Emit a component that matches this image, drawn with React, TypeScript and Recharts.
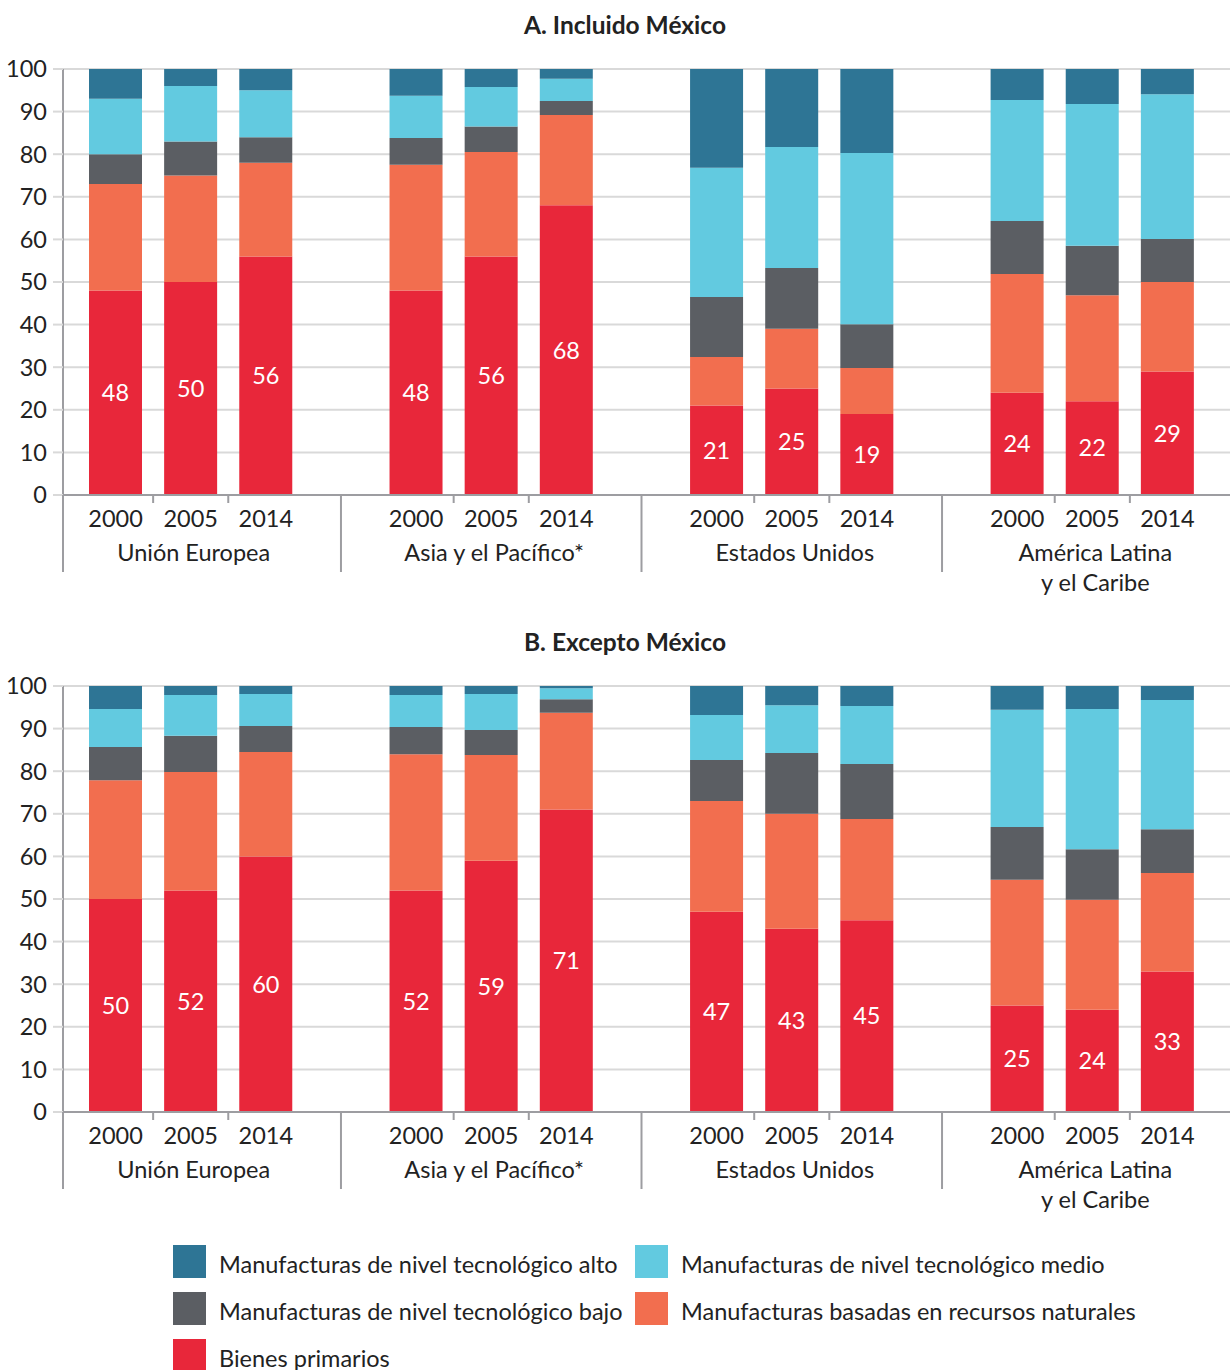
import React from 'react';
import { BarChart, Bar, XAxis, YAxis, CartesianGrid, LabelList } from 'recharts';

const regions = ['Unión Europea', 'Asia y el Pacífico*', 'Estados Unidos', 'América Latina\ny el Caribe'];
const years = ['2000', '2005', '2014'];
const yTicks = [0, 10, 20, 30, 40, 50, 60, 70, 80, 90, 100];

// A. Incluido México (order: UE, Asia, EE.UU., ALC x 2000/2005/2014)
const primariosA = [48, 50, 56, 48, 56, 68, 21, 25, 19, 24, 22, 29];
const naturalesA = [25, 25, 22, 29.5, 24.5, 21.2, 11.4, 14, 10.8, 27.9, 24.9, 21];
const bajoA = [7, 8, 6, 6.3, 6, 3.3, 14.1, 14.3, 10.3, 12.4, 11.6, 10.1];
const medioA = [13, 13, 11, 9.9, 9.3, 5.2, 30.3, 28.4, 40.2, 28.4, 33.3, 34];
const altoA = [7, 4, 5, 6.3, 4.2, 2.3, 23.2, 18.3, 19.7, 7.3, 8.2, 5.9];

// B. Excepto México
const primariosB = [50, 52, 60, 52, 59, 71, 47, 43, 45, 25, 24, 33];
const naturalesB = [27.9, 27.8, 24.5, 32, 24.8, 22.7, 26, 27, 23.8, 29.5, 25.8, 23.1];
const bajoB = [7.8, 8.5, 6.1, 6.4, 5.9, 3.2, 9.6, 14.3, 12.9, 12.4, 11.9, 10.3];
const medioB = [8.9, 9.6, 7.5, 7.5, 8.4, 2.6, 10.6, 11.2, 13.6, 27.5, 32.9, 30.3];
const altoB = [5.4, 2.1, 1.9, 2.1, 1.9, 0.5, 6.8, 4.5, 4.7, 5.6, 5.4, 3.3];

const series = [
  { key: 'alto', name: 'Manufacturas de nivel tecnológico alto', color: '#2e7595' },
  { key: 'medio', name: 'Manufacturas de nivel tecnológico medio', color: '#62cae0' },
  { key: 'bajo', name: 'Manufacturas de nivel tecnológico bajo', color: '#5b5e63' },
  { key: 'naturales', name: 'Manufacturas basadas en recursos naturales', color: '#f26e4f' },
  { key: 'primarios', name: 'Bienes primarios', color: '#e8273a' },
];
const stackOrder = ['primarios', 'naturales', 'bajo', 'medio', 'alto'];

const W = 1230;
const H = 600;
const PLOT_LEFT = 63;
const PAD_L = 15;
const PAD_R = 25;
const SLOTS = regions.length * years.length + regions.length - 1;
const SLOT_W = (W - PLOT_LEFT - PAD_L - PAD_R) / SLOTS;
const FONT = 'Lato, "Noto Sans", sans-serif';
const FS = 23.5;
const TEXT = '#222222';
const AXIS = '#9d9da1';

function buildRows(p: number[], n: number[], b: number[], m: number[], a: number[]) {
  const rows: any[] = [];
  regions.forEach((r, ri) => {
    years.forEach((y, yi) => {
      const i = ri * years.length + yi;
      rows.push({ key: `${ri}-${yi}`, primarios: p[i], naturales: n[i], bajo: b[i], medio: m[i], alto: a[i] });
    });
    if (ri < regions.length - 1) rows.push({ key: `gap-${ri}` });
  });
  return rows;
}

const rowsA = buildRows(primariosA, naturalesA, bajoA, medioA, altoA);
const rowsB = buildRows(primariosB, naturalesB, bajoB, medioB, altoB);

const CategoryTick = (props: any) => {
  const { x, y, payload, index } = props;
  const key: string = payload.value;
  if (key.startsWith('gap')) {
    return <line x1={x} x2={x} y1={y} y2={y + 77} stroke={AXIS} strokeWidth={2} />;
  }
  const [ri, yi] = key.split('-').map(Number);
  const lines = regions[ri].split('\n');
  return (
    <g>
      {index === 0 && <line x1={PLOT_LEFT} x2={PLOT_LEFT} y1={y} y2={y + 77} stroke={AXIS} strokeWidth={2} />}
      {yi > 0 && <line x1={x - SLOT_W / 2} x2={x - SLOT_W / 2} y1={y} y2={y + 8} stroke={AXIS} strokeWidth={2} />}
      <text x={x} y={y + 32} textAnchor="middle" fill={TEXT} fontSize={FS}>{years[yi]}</text>
      {yi === 1 && lines.map((l, li) => (
        <text key={li} x={x + 3} y={y + 66 + li * 30} textAnchor="middle" fill={TEXT} fontSize={FS}>{l}</text>
      ))}
    </g>
  );
};

const Panel = ({ title, top, rows }: { title: string; top: number; rows: any[] }) => (
  <div style={{ position: 'absolute', left: 0, top, width: W, height: H }}>
    <BarChart width={W} height={H} data={rows} margin={{ top: 69, right: 0, left: 0, bottom: 15 }} barSize={53}>
      <CartesianGrid vertical={false} stroke="#d9d9d9" strokeWidth={2} />
      <XAxis
        dataKey="key"
        interval={0}
        tick={<CategoryTick />}
        tickLine={false}
        tickSize={0}
        tickMargin={0}
        axisLine={{ stroke: AXIS, strokeWidth: 2 }}
        height={90}
        padding={{ left: PAD_L, right: PAD_R }}
      />
      <YAxis
        domain={[0, 100]}
        ticks={yTicks}
        width={PLOT_LEFT}
        interval={0}
        axisLine={{ stroke: AXIS, strokeWidth: 2 }}
        tickLine={{ stroke: '#d9d9d9', strokeWidth: 2 }}
        tickSize={10}
        tickMargin={6}
        tick={{ fill: TEXT, fontSize: FS }}
      />
      {stackOrder.map((k) => {
        const s = series.find((x) => x.key === k)!;
        return (
          <Bar key={k} dataKey={k} stackId="a" fill={s.color} isAnimationActive={false}>
            {k === 'primarios' && <LabelList dataKey="primarios" position="center" fill="#ffffff" fontSize={FS} />}
          </Bar>
        );
      })}
    </BarChart>
    <div style={{ position: 'absolute', top: 10, left: 10, width: W, textAlign: 'center', fontWeight: 700, fontSize: 24.5, color: TEXT }}>
      {title}
    </div>
  </div>
);

const legendRows = [['alto', 'medio'], ['bajo', 'naturales'], ['primarios']];

const Legend = () => (
  <div style={{ position: 'absolute', left: 0, top: 1245, width: W }}>
    {legendRows.map((row, r) => (
      <div key={r} style={{ position: 'absolute', top: r * 47, left: 0, width: W, height: 33 }}>
        {row.map((k, c) => {
          const s = series.find((x) => x.key === k)!;
          return (
            <div key={k} style={{ position: 'absolute', left: c === 0 ? 173 : 635, top: 0, display: 'flex', alignItems: 'center', height: 33 }}>
              <div style={{ width: 33, height: 33, background: s.color }} />
              <span style={{ marginLeft: 13, fontSize: FS, color: TEXT, whiteSpace: 'nowrap', position: 'relative', top: 2 }}>{s.name}</span>
            </div>
          );
        })}
      </div>
    ))}
  </div>
);

export default function App() {
  return (
    <div style={{ position: 'absolute', left: 0, top: 0, width: W, height: 1370, background: '#fff', fontFamily: FONT, overflow: 'hidden' }}>
      <Panel title="A. Incluido México" top={0} rows={rowsA} />
      <Panel title="B. Excepto México" top={617} rows={rowsB} />
      <Legend />
    </div>
  );
}
